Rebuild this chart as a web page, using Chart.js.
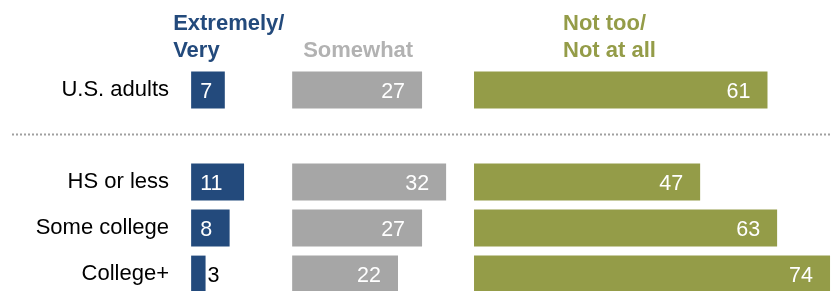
<!DOCTYPE html>
<html>
<head>
<meta charset="utf-8">
<script src="https://cdn.jsdelivr.net/npm/chart.js@4.4.0/dist/chart.umd.min.js"></script>
<style>
  html, body { margin: 0; padding: 0; width: 831px; height: 291px; overflow: hidden; background: #fff; }
  canvas { display: block; }
</style>
</head>
<body>
<canvas id="c" width="831" height="320" style="width:831px;height:320px"></canvas>
<script>
// ---- data ----
const categories = ["U.S. adults", "", "HS or less", "Some college", "College+"];
const extremelyVery = [7, null, 11, 8, 3];
const somewhat = [27, null, 32, 27, 22];
const notTooNotAtAll = [61, null, 47, 63, 74];
const seriesNames = ["Extremely/\nVery", "Somewhat", "Not too/\nNot at all"];

// column offsets (in value units) for each block
const offsets = [0, 21, 58.8];
const colors = ["#234a7c", "#a6a6a6", "#949c48"];
const headerColors = ["#234a7c", "#b2b2b2", "#949c48"];
const FONT = "'Liberation Sans', Arial, sans-serif";

function floating(values, off) {
  return values.map(v => v == null ? null : [off, off + v]);
}
const allSeries = [extremelyVery, somewhat, notTooNotAtAll];

const labelPlugin = {
  id: 'labels',
  afterDatasetsDraw(chart) {
    const ctx = chart.ctx;
    ctx.save();
    ctx.font = "21.5px " + FONT;
    ctx.textBaseline = 'alphabetic';
    chart.data.datasets.forEach((ds, di) => {
      const meta = chart.getDatasetMeta(di);
      meta.data.forEach((bar, i) => {
        const v = allSeries[di][i];
        if (v == null) return;
        const y = bar.y + 7.5;
        if (di === 0) {
          if (v < 5) {
            ctx.fillStyle = '#000';
            ctx.textAlign = 'left';
            ctx.fillText(String(v), bar.x + 2, y);
          } else {
            ctx.fillStyle = '#fff';
            ctx.textAlign = 'left';
            ctx.fillText(String(v), bar.base + 9, y);
          }
        } else {
          ctx.fillStyle = '#fff';
          ctx.textAlign = 'right';
          ctx.fillText(String(v), bar.x - 17, y);
        }
      });
    });
    // headers
    const xs = chart.scales.x;
    ctx.font = "bold 22px " + FONT;
    ctx.textAlign = 'left';
    const headerShift = [-18, 11, 89];
    seriesNames.forEach((name, k) => {
      const lines = name.split("\n");
      const x0 = xs.getPixelForValue(offsets[k]) + headerShift[k];
      ctx.fillStyle = headerColors[k];
      const baseLast = 57;
      lines.forEach((ln, j) => {
        ctx.fillText(ln, x0, baseLast - (lines.length - 1 - j) * 27.5);
      });
    });
    // dotted separator
    const ys = chart.scales.y;
    const yy = ys.getPixelForValue(1) - 1.5;
    ctx.strokeStyle = '#a0a0a0';
    ctx.lineWidth = 2;
    ctx.setLineDash([2, 2]);
    ctx.beginPath();
    ctx.moveTo(12, yy);
    ctx.lineTo(830, yy);
    ctx.stroke();
    ctx.restore();
  }
};

new Chart(document.getElementById('c'), {
  type: 'bar',
  data: {
    labels: categories,
    datasets: allSeries.map((vals, k) => ({
      label: seriesNames[k],
      data: floating(vals, offsets[k]),
      backgroundColor: colors[k],
      borderWidth: 0,
      grouped: false,
      categoryPercentage: 1,
      barPercentage: 0.8
    }))
  },
  options: {
    indexAxis: 'y',
    responsive: false,
    animation: false,
    devicePixelRatio: 1,
    layout: { padding: { top: 67, left: 0, right: 0, bottom: 23 } },
    plugins: { legend: { display: false }, tooltip: { enabled: false } },
    scales: {
      x: { display: false, min: -4.6, max: 133 },
      y: {
        grid: { display: false, drawTicks: false },
        border: { display: false },
        ticks: { color: '#000', font: { size: 22, family: FONT }, padding: 0 },
        afterFit(scale) { scale.width = 169; }
      }
    }
  },
  plugins: [labelPlugin]
});
</script>
</body>
</html>
